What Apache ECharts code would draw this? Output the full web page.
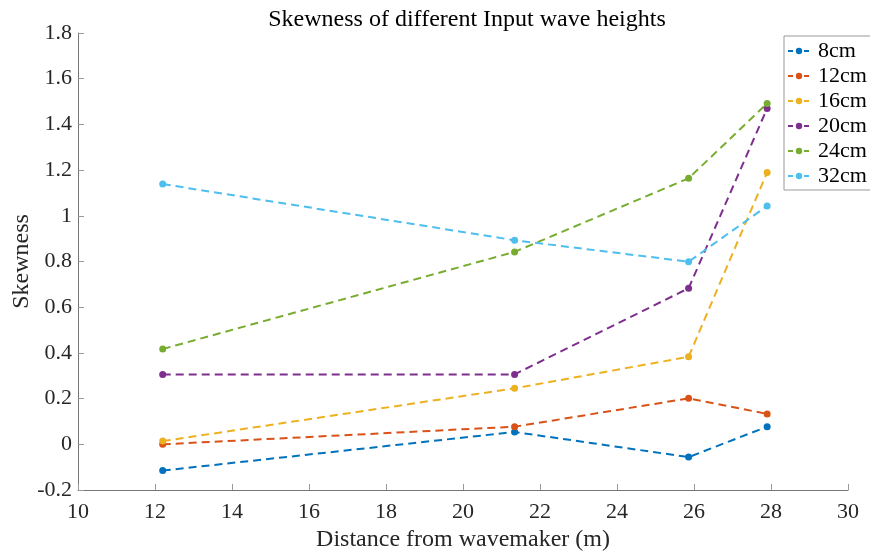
<!DOCTYPE html>
<html>
<head>
<meta charset="utf-8">
<script src="https://cdn.jsdelivr.net/npm/echarts@6/dist/echarts.min.js"></script>
<style>
  html, body { margin: 0; padding: 0; background: #fff; }
  #chart { width: 870px; height: 552px; }
</style>
</head>
<body>
<div id="chart"></div>
<script>
  // distances along the flume (m)
  var distances = [12.2, 21.34, 25.86, 27.9];
  var seriesNames = ['8cm', '12cm', '16cm', '20cm', '24cm', '32cm'];
  var skew8 = [-0.115, 0.054, -0.056, 0.077];
  var skew12 = [0.0, 0.077, 0.201, 0.133];
  var skew16 = [0.014, 0.245, 0.383, 1.19];
  var skew20 = [0.306, 0.306, 0.683, 1.47];
  var skew24 = [0.417, 0.842, 1.164, 1.492];
  var skew32 = [1.139, 0.893, 0.799, 1.043];
  var colors = ['#0072BD', '#D95319', '#EDB120', '#7E2F8E', '#77AC30', '#4DBEEE'];

  var allData = [skew8, skew12, skew16, skew20, skew24, skew32];
  var font = 'Liberation Serif';

  var series = [];
  for (var i = 0; i < seriesNames.length; i++) {
    var pts = [];
    for (var k = 0; k < distances.length; k++) {
      pts.push([distances[k], allData[i][k]]);
    }
    series.push({
      name: seriesNames[i],
      type: 'line',
      data: pts,
      symbol: 'circle',
      symbolSize: 7,
      color: colors[i],
      lineStyle: { type: [8, 5], width: 2 },
      emphasis: { disabled: true }
    });
  }

  var chart = echarts.init(document.getElementById('chart'));
  chart.setOption({
    animation: false,
    title: {
      text: 'Skewness of different Input wave heights',
      left: 462, top: 3, textAlign: 'center',
      textStyle: { fontFamily: font, fontSize: 24, fontWeight: 'normal', color: '#000' }
    },
    legend: {
      orient: 'vertical',
      left: 784, top: 36,
      padding: [4, 20, 3, 3],
      itemGap: 3,
      itemWidth: 22, itemHeight: 8,
      borderColor: '#999', borderWidth: 1,
      backgroundColor: '#fff',
      lineStyle: { type: [5, 3], width: 2 },
      textStyle: { fontFamily: font, fontSize: 22, color: '#000', padding: [0, 0, 0, 3] },
      data: seriesNames
    },
    grid: { left: 78, right: 22, top: 33, bottom: 62, containLabel: false, outerBoundsMode: 'none' },
    xAxis: {
      type: 'value', min: 10, max: 30, interval: 2,
      name: 'Distance from wavemaker (m)',
      nameLocation: 'middle', nameGap: 36,
      nameTextStyle: { fontFamily: font, fontSize: 24, color: '#262626' },
      axisLine: { onZero: false, lineStyle: { color: '#777' } },
      axisTick: { inside: true, length: 6, lineStyle: { color: '#999' } },
      axisLabel: { fontFamily: font, fontSize: 22, color: '#262626', margin: 11 },
      splitLine: { show: false }
    },
    yAxis: {
      type: 'value', min: -0.2, max: 1.8, interval: 0.2,
      name: 'Skewness',
      nameLocation: 'middle', nameGap: 44,
      nameMoveOverlap: false,
      nameTextStyle: { fontFamily: font, fontSize: 24, color: '#262626' },
      axisLine: { show: true, onZero: false, lineStyle: { color: '#777' } },
      axisTick: { show: true, inside: true, length: 6, lineStyle: { color: '#999' } },
      axisLabel: {
        fontFamily: font, fontSize: 22, color: '#262626', margin: 6,
        formatter: function (v) { return String(parseFloat(v.toFixed(1))); }
      },
      splitLine: { show: false }
    },
    series: series
  });
</script>
</body>
</html>
